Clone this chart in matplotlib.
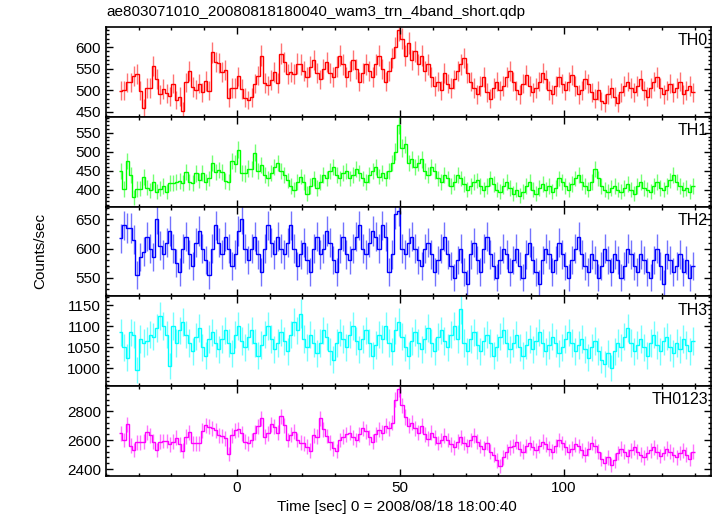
import numpy as np
import matplotlib
matplotlib.use("Agg")
import matplotlib.pyplot as plt
from matplotlib.ticker import MultipleLocator

plt.rcParams['font.family'] = ['Liberation Sans', 'DejaVu Sans']

title = "ae803071010_20080818180040_wam3_trn_4band_short.qdp"
xlabel = "Time [sec] 0 = 2008/08/18 18:00:40"
ylabel = "Counts/sec"

t_start = -35.5   # centre of first 1-s bin
bin_width = 1.0

th0 = [499, 500, 518, 518, 533, 538, 499, 458, 505, 505,
       557, 526, 491, 503, 493, 486, 515, 477, 485, 452,
       518, 544, 507, 501, 515, 495, 521, 499, 588, 566,
       563, 542, 546, 482, 505, 505, 532, 503, 482, 477,
       483, 515, 534, 580, 517, 511, 523, 542, 517, 585,
       566, 537, 542, 537, 562,
       560, 545, 530, 555, 570, 540, 525, 550, 565, 540, 530, 555,
       580, 560, 530, 545, 570, 550, 520, 540, 560, 545,
       530, 560, 580, 550, 520, 545, 575, 600, 640, 620,
       580, 610, 570, 590, 560, 580, 545, 560, 530, 510,
       520, 500, 540, 515, 505, 525, 545, 560, 575, 540,
       520, 505, 490, 510, 530, 495, 480, 505, 520, 500,
       510, 530, 545, 520, 500, 490, 515, 535, 510, 495,
       505, 520, 540, 525, 500, 490, 510, 530, 515, 500,
       520, 535, 510, 490, 500, 525, 515, 495, 480, 500,
       475, 470, 490, 505, 485, 470, 495, 510, 520, 505,
       495, 510, 525, 500, 485, 505, 520, 530, 505, 490,
       500, 515, 495, 505, 520, 490, 500, 510, 495]

th1 = [449, 402, 476, 439, 380, 402, 403, 434, 406, 399,
       421, 395, 403, 410, 395, 418, 418, 421, 423, 418,
       447, 421, 418, 443, 425, 445, 421, 430, 471, 447,
       452, 447, 424, 421, 476, 469, 506, 445, 443, 456,
       454, 497,
       450, 465, 440, 430, 445, 460, 470, 450, 440, 425,
       410, 400, 420, 435, 420, 390, 410, 430, 405, 420,
       440, 430, 450, 460, 440, 430, 445, 450, 430, 440,
       455, 445, 430, 420, 440, 450, 460, 435, 445, 430,
       450, 470, 500, 570, 510, 520, 470, 480, 460, 470,
       480, 450, 440, 460, 450, 430, 420, 440, 430, 410,
       420, 440, 430, 415, 400, 410, 420, 425, 410, 400,
       410, 430, 415, 400, 395, 410, 420, 405, 390, 400,
       385, 395, 410, 420, 400, 390, 405, 415, 400, 410,
       395, 405, 430, 420, 410, 400, 415, 430, 440, 420,
       410, 400, 420, 455, 430, 410, 400, 395, 405, 410,
       400, 395, 405, 415, 400, 390, 410, 420, 405, 400,
       395, 410, 420, 405, 400, 410, 425, 440, 420, 410,
       400, 405, 395, 410]

th2 = [618, 640, 635, 635, 615, 555, 585, 595, 620, 600,
       585, 650, 605, 590, 610, 630, 600, 575, 560, 600,
       620, 590, 570, 610, 630, 600, 580, 555, 600, 640,
       610, 590, 620, 600, 570, 590, 630, 650, 600, 580,
       600, 620, 590, 560, 600, 640, 610, 590, 620, 600,
       590, 610, 640, 600, 570, 590, 610, 580, 560, 600,
       620, 590, 600, 630, 610, 580, 560, 600, 620, 590,
       580, 600, 620, 640, 600, 590, 610, 630, 620, 600,
       640, 620, 560, 590, 660, 665, 600, 590, 610, 620,
       600, 580, 570, 600, 610, 590, 560, 580, 600, 620,
       590, 570, 550, 580, 600, 560, 540, 590, 610, 580,
       560, 600, 620, 590, 570, 550, 580, 600, 590, 560,
       580, 600, 570, 550, 590, 610, 580, 560, 540, 580,
       600, 590, 560, 580, 610, 590, 570, 550, 580, 600,
       620, 590, 570, 560, 590, 580, 550, 570, 600, 580,
       560, 590, 580, 550, 570, 600, 590, 570, 560, 590,
       580, 560, 550, 580, 600, 570, 540, 590, 580, 560,
       570, 590, 560, 580, 550, 570]

th3 = [1085, 1050, 1025, 1085, 1080, 995, 1070, 1060, 1065, 1080,
       1075, 1095, 1125, 1100, 1080, 1005, 1100, 1060, 1090, 1110,
       1080, 1060, 1040, 1075, 1095, 1050, 1030, 1070, 1085, 1060,
       1045, 1070, 1090, 1060, 1035, 1080, 1100, 1065, 1050, 1075,
       1090, 1060, 1030, 1055, 1080, 1100, 1070, 1045, 1060, 1085,
       1065, 1040, 1080, 1110, 1090, 1130, 1070, 1050, 1080, 1060,
       1035, 1060, 1090, 1075, 1040, 1020, 1060, 1085, 1070, 1050,
       1080, 1100, 1065, 1045, 1070, 1090, 1060, 1030, 1055, 1080,
       1070, 1100, 1060, 1040, 1090, 1110, 1075, 1050, 1030, 1065,
       1085, 1060, 1045, 1070, 1095, 1060, 1040, 1075, 1090, 1065,
       1050, 1080, 1100, 1070, 1140, 1060, 1040, 1070, 1085, 1055,
       1040, 1065, 1080, 1060, 1030, 1050, 1075, 1090, 1060, 1045,
       1060, 1080, 1050, 1030, 1055, 1070, 1045, 1065, 1085, 1060,
       1040, 1055, 1075, 1060, 1035, 1050, 1070, 1085, 1060, 1040,
       1055, 1070, 1045, 1025, 1050, 1065, 1040, 1020, 1010, 1035,
       1000, 1040, 1060, 1050, 1075, 1095, 1060, 1040, 1055, 1070,
       1050, 1030, 1060, 1080, 1055, 1040, 1065, 1075, 1050, 1035,
       1060, 1045, 1070, 1055, 1040, 1065]

th0123 = [2646, 2600, 2710, 2561, 2531, 2584, 2584, 2588, 2653, 2634,
          2589, 2531, 2589, 2593, 2593, 2570, 2589, 2616, 2570, 2527,
          2623, 2653, 2577, 2577, 2577, 2664, 2703, 2692, 2680, 2669,
          2634, 2628, 2611, 2503, 2634, 2669, 2674, 2646, 2589, 2577,
          2600, 2651, 2696, 2749, 2623, 2646, 2710, 2692, 2651, 2765,
          2703, 2600, 2638, 2657, 2600, 2582, 2577, 2554, 2527, 2634,
          2623, 2749, 2674, 2628, 2584, 2543, 2524, 2600, 2623, 2640,
          2650, 2620, 2600, 2640, 2680, 2660, 2620, 2590, 2640, 2670,
          2650, 2700, 2680, 2720, 2880, 2950, 2840, 2760, 2700, 2720,
          2680, 2650, 2700, 2640, 2610, 2650, 2620, 2580, 2600, 2630,
          2600, 2570, 2550, 2590, 2620, 2580, 2560, 2600, 2630, 2590,
          2560, 2540, 2580, 2520, 2500, 2460, 2420, 2480, 2520, 2550,
          2560, 2590, 2540, 2520, 2560, 2580, 2550, 2530, 2560, 2590,
          2570, 2540, 2520, 2560, 2600, 2580, 2550, 2520, 2540, 2570,
          2560, 2530, 2500, 2540, 2580, 2560, 2520, 2470, 2440, 2480,
          2430, 2460, 2510, 2540, 2520, 2490, 2530, 2550, 2520, 2500,
          2480, 2510, 2530, 2550, 2520, 2490, 2510, 2540, 2520, 2500,
          2480, 2510, 2530, 2500, 2470, 2520]

names = ["TH0", "TH1", "TH2", "TH3", "TH0123"]
series = [th0, th1, th2, th3, th0123]
colors = ["#ff0000", "#00ff00", "#0000ff", "#00ffff", "#ff00ff"]
ylims = [(438, 647), (356, 592), (518, 672), (957, 1171), (2352, 2972)]
ymajor = [50, 50, 50, 50, 200]
yminor = [10, 10, 10, 10, 40]
xlim = (-40, 145)

W, H = 717, 516
fig = plt.figure(figsize=(W / 100, H / 100), dpi=100)
left, right, top, bottom = 106, 711, 27, 476
ph = (bottom - top) / 5.0

for i, (name, vals, col) in enumerate(zip(names, series, colors)):
    y0 = top + i * ph
    ax = fig.add_axes([left / W, 1 - (y0 + ph) / H, (right - left) / W, ph / H])
    v = np.asarray(vals, dtype=float)
    t = t_start + bin_width * np.arange(len(v))
    err = np.sqrt(v)
    ax.errorbar(t, v, yerr=err, fmt="none", ecolor=col, elinewidth=1.0,
                alpha=0.55, capsize=0)
    edges = np.concatenate([t - bin_width / 2, [t[-1] + bin_width / 2]])
    ax.stairs(v, edges, baseline=None, color=col, linewidth=1.0)
    ax.set_xlim(*xlim)
    ax.set_ylim(*ylims[i])
    ax.xaxis.set_major_locator(MultipleLocator(50))
    ax.xaxis.set_minor_locator(MultipleLocator(10))
    ax.yaxis.set_major_locator(MultipleLocator(ymajor[i]))
    ax.yaxis.set_minor_locator(MultipleLocator(yminor[i]))
    ax.tick_params(which="both", direction="in", top=True, right=True,
                   width=1.0, labelsize=11)
    ax.tick_params(which="major", length=5)
    ax.tick_params(which="minor", length=2.5)
    for s in ax.spines.values():
        s.set_linewidth(1.2)
    if i < 4:
        ax.tick_params(labelbottom=False)
    ax.text(0.995, 0.93, name, transform=ax.transAxes, ha="right", va="top",
            fontsize=11.5)

fig.text(left / W, 1 - 12 / H, title, ha="left", va="center", fontsize=11)
fig.text(397 / W, 1 - 507 / H, xlabel, ha="center", va="center", fontsize=11)
fig.text(40 / W, 1 - 251 / H, ylabel, ha="center", va="center", rotation=90,
         fontsize=11)

fig.savefig("out.png", dpi=100)
